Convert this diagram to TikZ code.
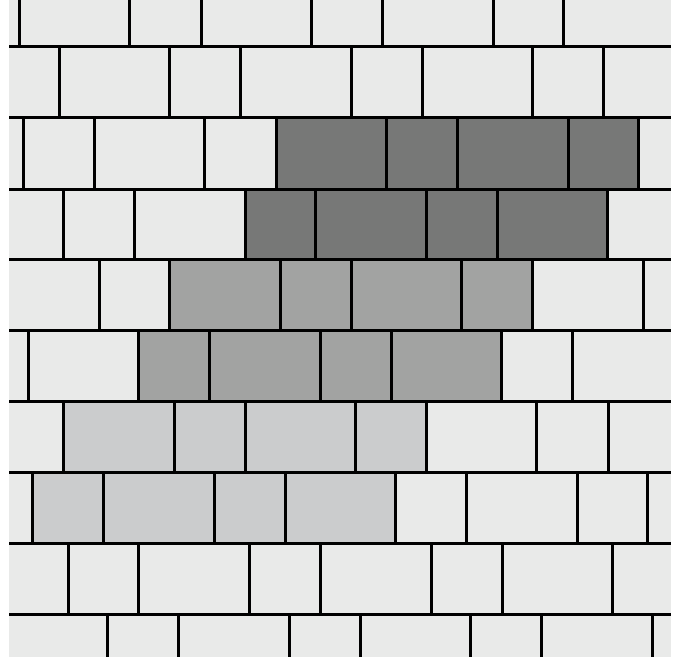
\documentclass[tikz,border=0pt]{standalone}
\definecolor{brickLight}{HTML}{E9EAE9}
\definecolor{brickDark}{HTML}{777877}
\definecolor{brickMid}{HTML}{A2A3A2}
\definecolor{brickPale}{HTML}{CBCCCD}
\tikzset{joint/.style={line width=3pt, black, line cap=butt}}
\newcommand{\brickrow}[3]{\foreach \xx in {#3} {\draw[joint] (\xx,#1) -- (\xx,#2);}}
\begin{document}
\begin{tikzpicture}[x={(1pt,0)}, y={(0,-1pt)}]
\useasboundingbox (0,0) rectangle (680,658);
\fill[white] (0,0) rectangle (680,658);
\fill[brickLight] (9,0) rectangle (671,657);
% shaded bricks
\fill[brickDark] (276,118) rectangle (638.7,189);
\fill[brickDark] (245,189) rectangle (607.7,259);
\fill[brickMid] (169.7,259) rectangle (532.7,330);
\fill[brickMid] (138.7,330) rectangle (501.3,401);
\fill[brickPale] (63.3,401) rectangle (426,472);
\fill[brickPale] (32.7,472) rectangle (395.3,543);
% bed joints
\foreach \yy in {47,118,189,259,330,401,472,543,614} {\draw[joint] (9,\yy) -- (671,\yy);}
% head joints
\brickrow{0}{47}{19,129.3,201,311.3,382.3,493,563.3}
\brickrow{47}{118}{59,169.3,240.3,351,422,532.7,603.7}
\brickrow{118}{189}{23.3,94.3,204.7,276,386.3,457.7,568.7,638.7}
\brickrow{189}{259}{63.3,134.3,245,315.7,426,497,607.7}
\brickrow{259}{330}{99,169.7,280.3,351,461.7,532.7,643.7}
\brickrow{330}{401}{28,138.7,209.7,320,391,501.3,572.3}
\brickrow{401}{472}{63.3,174,245,355.3,426,536.7,608}
\brickrow{472}{543}{32.7,103.3,214,285.3,395.3,466.3,577,647.7}
\brickrow{543}{614}{68,138.7,249.3,320.7,431,502,612.3}
\brickrow{614}{657}{107.7,178.7,289.3,360,470.3,541.7,652.3}
\end{tikzpicture}
\end{document}
